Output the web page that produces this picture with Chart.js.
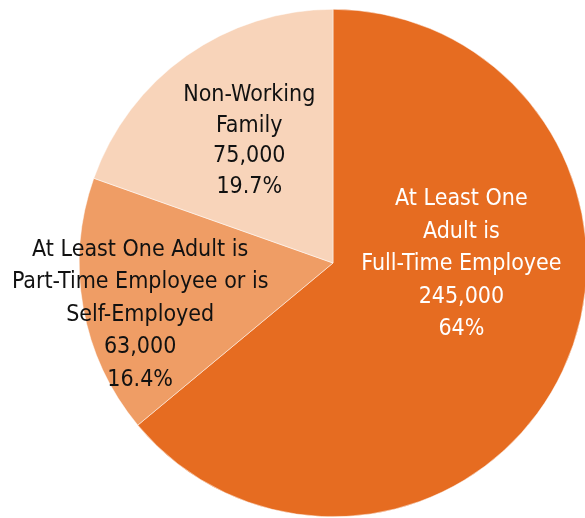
<!DOCTYPE html>
<html>
<head>
<meta charset="utf-8">
<script src="https://cdn.jsdelivr.net/npm/chart.js@4/dist/chart.umd.min.js"></script>
<style>
    html, body { margin: 0; padding: 0; background: #fff; overflow: hidden; }
    #wrap { position: relative; width: 600px; height: 518px; }
</style>
</head>
<body>
<div id="wrap"><canvas id="chart"></canvas></div>
<script>
const categories = [
    ['At Least One', 'Adult is', 'Full-Time Employee'],
    ['At Least One Adult is', 'Part-Time Employee or is', 'Self-Employed'],
    ['Non-Working', 'Family'],
];
const counts = [245000, 63000, 75000];
const percentLabels = ['64%', '16.4%', '19.7%'];
const sliceColors = ['#E66C21', '#EF9D65', '#F8D4BA'];
const textColors = ['#ffffff', '#111111', '#111111'];

// label block centre, as a fraction of the radius from the pie centre
const labelOffsets = [[0.506, 0.006], [-0.76, 0.205], [-0.33, -0.48]];
const lineHeights = [32.5, 32.5, 30.5];

const sliceLabels = {
    id: 'sliceLabels',
    afterDatasetsDraw(chart) {
        const ctx = chart.ctx;
        const meta = chart.getDatasetMeta(0);
        ctx.save();
        ctx.font = '23px "Liberation Sans Narrow", "DejaVu Sans Condensed", "Roboto Condensed", sans-serif';
        ctx.textAlign = 'center';
        ctx.textBaseline = 'middle';
        meta.data.forEach((arc, i) => {
            const r = arc.outerRadius;
            const cx = arc.x + labelOffsets[i][0] * r;
            const cy = arc.y + labelOffsets[i][1] * r;
            const lines = [...categories[i], counts[i].toLocaleString('en-US'), percentLabels[i]];
            const lh = lineHeights[i];
            const top = cy - (lines.length - 1) * lh / 2;
            ctx.fillStyle = textColors[i];
            lines.forEach((t, j) => ctx.fillText(t, cx, top + j * lh));
        });
        ctx.restore();
    }
};

new Chart(document.getElementById('chart'), {
    type: 'pie',
    data: {
        labels: categories.map(c => c.join(' ')),
        datasets: [{
            data: counts,
            backgroundColor: sliceColors,
            borderColor: '#ffffff',
            borderWidth: 0.5,
        }],
    },
    options: {
        responsive: true,
        maintainAspectRatio: false,
        animation: false,
        layout: { padding: { top: 9, bottom: 1, left: 66, right: 0 } },
        plugins: {
            legend: { display: false },
            tooltip: { enabled: false },
        },
    },
    plugins: [sliceLabels],
});
</script>
</body>
</html>
